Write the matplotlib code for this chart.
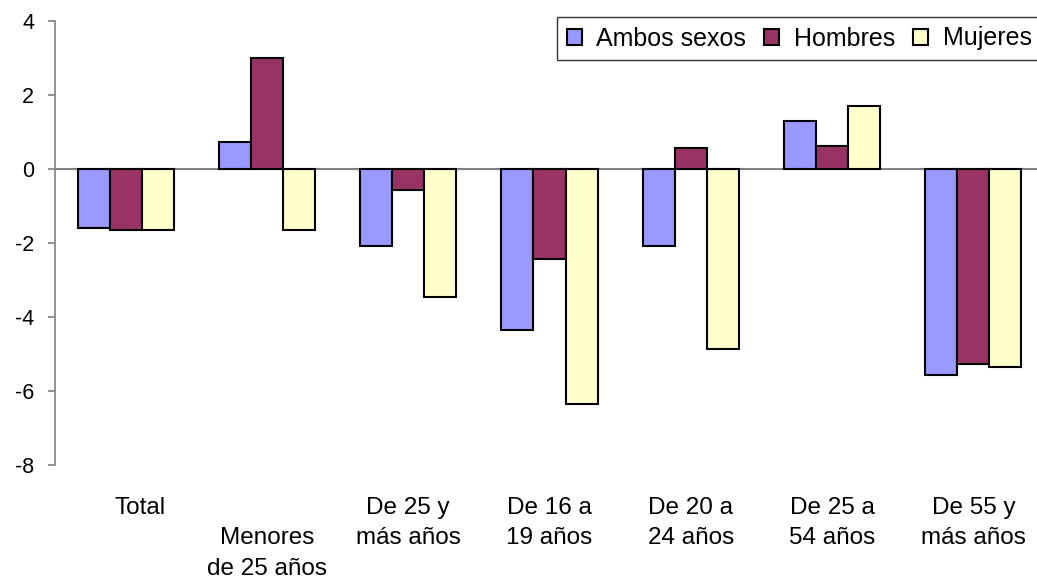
import numpy as np
import matplotlib.pyplot as plt
import matplotlib.transforms as mtransforms

plt.rcParams['font.family'] = ['Liberation Sans', 'DejaVu Sans']
plt.rcParams['axes.unicode_minus'] = False

categorias = ["Total", "\nMenores\nde 25 años", "De 25 y\nmás años", "De 16 a\n19 años",
              "De 20 a\n24 años", "De 25 a\n54 años", "De 55 y\nmás años"]
series = ["Ambos sexos", "Hombres", "Mujeres"]
ambos = [-1.59, 0.73, -2.08, -4.35, -2.08, 1.30, -5.57]
hombres = [-1.65, 3.00, -0.57, -2.43, 0.57, 0.62, -5.27]
mujeres = [-1.65, -1.65, -3.46, -6.35, -4.86, 1.70, -5.35]
colores = ["#9999FF", "#993366", "#FFFFCC"]

fig = plt.figure(figsize=(10.37, 5.81), dpi=100)
ax = fig.add_axes([55/1037, 116/581, 989/1037, 444/581])

x = np.arange(len(categorias))
w = 0.227
for i, (vals, nombre) in enumerate(zip([ambos, hombres, mujeres], series)):
    ax.bar(x + (i - 1) * w, vals, w, color=colores[i], edgecolor='black',
           linewidth=1.5, label=nombre, zorder=3)

ax.axhline(0, color='#808080', linewidth=1.5, zorder=2)
ax.set_xlim(-0.5, len(categorias) - 0.5)
ax.set_ylim(-8, 4)
ax.set_yticks(np.arange(-8, 5, 2))
ax.set_xticks(x)
ax.set_xticklabels(categorias, linespacing=1.5, va='top')
ax.tick_params(axis='x', length=0, pad=23, labelsize=17.5)
ax.tick_params(axis='y', direction='out', length=5, color='#808080', width=1.2,
               labelsize=15.5, pad=10)
for s in ['top', 'right', 'bottom']:
    ax.spines[s].set_visible(False)
ax.spines['left'].set_color('#808080')
ax.spines['left'].set_linewidth(1.2)

# "Total" sits a little right of its group in the original
lab = ax.get_xticklabels()[0]
lab.set_transform(lab.get_transform() + mtransforms.ScaledTranslation(14/100, 0, fig.dpi_scale_trans))

leg = fig.legend(loc='upper left', bbox_to_anchor=(557/1037, 1 - 17/581), ncol=3,
                 fontsize=18, frameon=True, fancybox=False, edgecolor='black',
                 handlelength=0.6, handleheight=0.6, handletextpad=0.6,
                 columnspacing=0.7, borderpad=0.38, borderaxespad=0)
leg.get_frame().set_linewidth(1.0)
for h in leg.legend_handles:
    h.set_linewidth(1.5)

fig.savefig('out.png', dpi=100)
